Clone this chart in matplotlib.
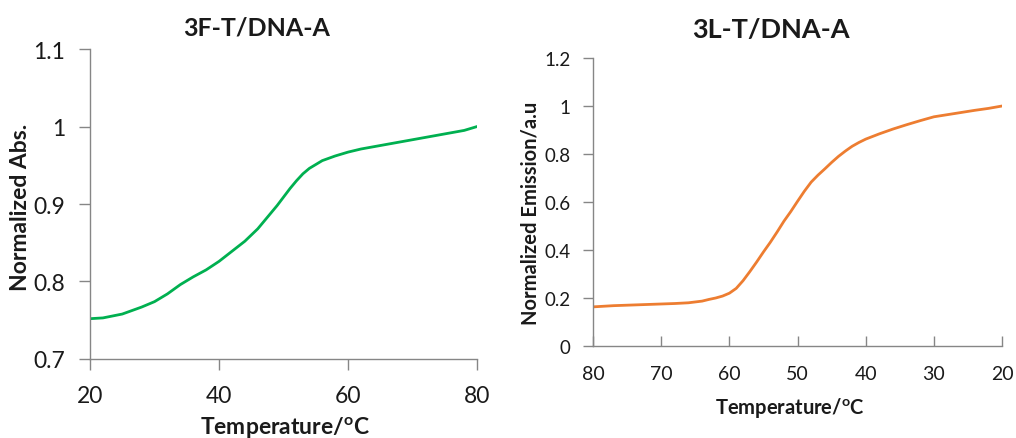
import matplotlib
matplotlib.use("Agg")
import matplotlib.pyplot as plt

# font setup (Calibri-ish look)
plt.rcParams['font.family'] = ['Lato', 'DejaVu Sans']
plt.rcParams['mathtext.fontset'] = 'custom'
plt.rcParams['mathtext.rm'] = 'Lato'
plt.rcParams['mathtext.bf'] = 'Lato:bold'

# --- Data: 3F-T/DNA-A (absorbance) ---
abs_temp = [20, 22, 25, 28, 30, 32, 34, 36, 38, 40, 42, 44, 46, 48, 49, 50, 51, 52,
            53, 54, 55, 56, 58, 60, 62, 64, 66, 68, 70, 72, 74, 76, 78, 80]
abs_val = [0.752, 0.753, 0.758, 0.767, 0.774, 0.784, 0.796, 0.806, 0.815, 0.826,
           0.839, 0.852, 0.868, 0.888, 0.898, 0.909, 0.920, 0.930, 0.939, 0.946,
           0.951, 0.956, 0.962, 0.967, 0.971, 0.974, 0.977, 0.980, 0.983, 0.986,
           0.989, 0.992, 0.995, 1.000]

# --- Data: 3L-T/DNA-A (emission) ---
em_temp = [80, 77, 74, 71, 68, 66, 64, 63, 62, 61, 60, 59, 58, 57, 56, 55, 54, 53,
           52, 51, 50, 49, 48, 47, 46, 45, 44, 43, 42, 41, 40, 38, 36, 34, 32, 30,
           28, 26, 24, 22, 20]
em_val = [0.163, 0.168, 0.171, 0.174, 0.177, 0.180, 0.187, 0.194, 0.200, 0.208,
          0.220, 0.240, 0.272, 0.310, 0.350, 0.392, 0.432, 0.475, 0.520, 0.560,
          0.603, 0.645, 0.683, 0.712, 0.738, 0.765, 0.790, 0.812, 0.832, 0.848,
          0.862, 0.884, 0.904, 0.922, 0.939, 0.955, 0.964, 0.973, 0.982, 0.990,
          1.000]

spine_col = '#868686'
text_col = '#1a1a1a'

fig = plt.figure(figsize=(10.16, 4.39), dpi=100)

# left panel
ax1 = fig.add_axes([0.0886, 0.180, 0.381, 0.706])
ax1.plot(abs_temp, abs_val, color='#00B050', lw=2)
ax1.set_xlim(20, 80)
ax1.set_ylim(0.7, 1.1)
ax1.set_xticks([20, 40, 60, 80])
ax1.set_yticks([0.7, 0.8, 0.9, 1.0, 1.1])
ax1.set_yticklabels(['0.7', '0.8', '0.9', '1', '1.1'])
ax1.tick_params(axis='both', direction='out', length=8, width=1, color=spine_col,
                labelsize=16.5, labelcolor=text_col)
ax1.tick_params(axis='y', pad=10)
ax1.tick_params(axis='x', pad=11)

# right panel
ax2 = fig.add_axes([0.5837, 0.2096, 0.4026, 0.656])
ax2.plot(em_temp, em_val, color='#ED7D31', lw=2)
ax2.set_xlim(80, 20)
ax2.set_ylim(0, 1.2)
ax2.set_xticks([80, 70, 60, 50, 40, 30, 20])
ax2.set_yticks([0, 0.2, 0.4, 0.6, 0.8, 1.0, 1.2])
ax2.set_yticklabels(['0', '0.2', '0.4', '0.6', '0.8', '1', '1.2'])
ax2.tick_params(axis='y', direction='out', length=7, width=1, color=spine_col,
                labelsize=13.5, labelcolor=text_col, pad=9)
ax2.tick_params(axis='x', direction='in', length=7, width=1, color=spine_col,
                labelsize=14, labelcolor=text_col, pad=14)

for ax in (ax1, ax2):
    for s in ('top', 'right'):
        ax.spines[s].set_visible(False)
    for s in ('left', 'bottom'):
        ax.spines[s].set_color(spine_col)
        ax.spines[s].set_linewidth(1)

# titles and axis labels
fig.text(0.253, 0.936, '3F-T/DNA-A', ha='center', va='center', fontsize=18,
         fontweight='bold', color=text_col)
fig.text(0.759, 0.932, '3L-T/DNA-A', ha='center', va='center', fontsize=19.5,
         fontweight='bold', color=text_col)
fig.text(0.0197, 0.528, 'Normalized Abs.', rotation=90, ha='center', va='center',
         fontsize=16.5, fontweight='bold', color=text_col)
fig.text(0.5226, 0.515, 'Normalized Emission/a.u', rotation=90, ha='center',
         va='center', fontsize=14.5, fontweight='bold', color=text_col)
fig.text(0.2805, 0.027, r'Temperature/$\mathbf{^{o}}$C', ha='center', va='center',
         fontsize=16.5, fontweight='bold', color=text_col)
fig.text(0.7776, 0.071, r'Temperature/$\mathbf{^{o}}$C', ha='center', va='center',
         fontsize=14.5, fontweight='bold', color=text_col)

fig.savefig('out.png', dpi=100)
